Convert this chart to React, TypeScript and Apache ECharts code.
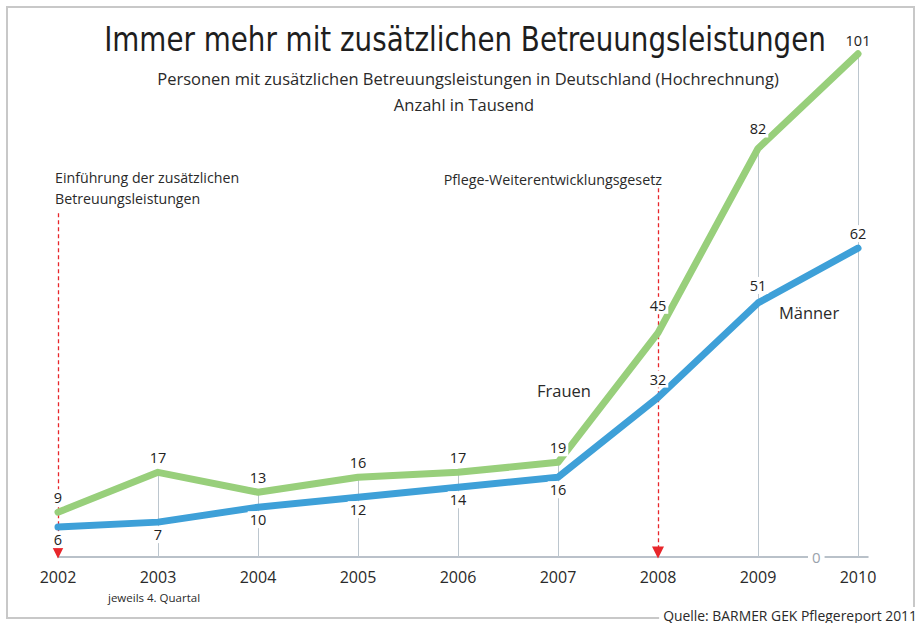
import React, { useEffect, useRef } from 'react';
import * as echarts from 'echarts';

// ---- data ----
const years = [2002, 2003, 2004, 2005, 2006, 2007, 2008, 2009, 2010];
const frauen = [9, 17, 13, 16, 17, 19, 45, 82, 101];
const maenner = [6, 7, 10, 12, 14, 16, 32, 51, 62];
const eventYears = [2002, 2008];
const eventTops = [69, 74];
const eventTexts = ['Einführung der zusätzlichen\nBetreuungsleistungen', 'Pflege-Weiterentwicklungsgesetz'];
const titleText = 'Immer mehr mit zusätzlichen Betreuungsleistungen';
const subtitleText = 'Personen mit zusätzlichen Betreuungsleistungen in Deutschland (Hochrechnung)';
const unitText = 'Anzahl in Tausend';
const noteText = 'jeweils 4. Quartal';
const sourceText = 'Quelle: BARMER GEK Pflegereport 2011';
const seriesNames = ['Frauen', 'Männer'];

// ---- label placement (style) ----
const frauenLabelDist = [5, 5, 5, 5, 5, 5, 18, 10, 4];
const maennerLabelPos = ['bottom', 'bottom', 'bottom', 'bottom', 'bottom', 'bottom', 'top', 'top', 'top'];
const maennerLabelDist = [3, 3, 3, 3, 3, 3, 9, 8, 5];

const GREEN = '#98cf7b';
const BLUE = '#3ea0d8';
const RED = '#e8262b';
const GRID = '#bcc6ce';
const FONT = '"Open Sans", "Noto Sans", sans-serif';
const TITLE_FONT = '"DejaVu Sans Condensed", "Open Sans", sans-serif';

export default function App() {
  const ref = useRef<HTMLDivElement>(null);
  useEffect(() => {
    if (!ref.current) return;
    const chart = echarts.init(ref.current, undefined, { renderer: 'svg' });

    const gridLines = years
      .map((y, i) => ({ y, top: Math.max(frauen[i], maenner[i]) }))
      .filter((d) => !eventYears.includes(d.y))
      .map((d) => [{ coord: [d.y, d.top] }, { coord: [d.y, 0] }]);

    const eventLines = eventYears.map((y, i) => [
      { coord: [y, eventTops[i]], symbol: 'none' },
      { coord: [y, 0.9], symbol: 'triangle', symbolSize: 12 },
    ]);

    const labelBase = {
      show: true,
      color: '#222',
      fontSize: 14.5,
      fontFamily: FONT,
      backgroundColor: '#fff',
      padding: [1, 2],
      formatter: (p: any) => String(p.value[1]),
    };

    const option: any = {
      animation: false,
      backgroundColor: '#fff',
      textStyle: { fontFamily: FONT },
      grid: { left: 58, right: 49, top: 9, bottom: 66 },
      xAxis: {
        type: 'value',
        min: 2002,
        max: 2010.1,
        interval: 1,
        splitLine: { show: false },
        axisTick: { show: false },
        axisLine: { lineStyle: { color: '#a3adb8', width: 1.5 } },
        axisLabel: {
          formatter: (v: number) => (Number.isInteger(v) ? String(v) : ''),
          color: '#2a2a2a',
          fontSize: 16,
          fontFamily: FONT,
          margin: 12,
        },
      },
      yAxis: {
        type: 'value',
        min: 0,
        max: 110,
        interval: 110,
        position: 'right',
        offset: -60,
        splitLine: { show: false },
        axisLine: { show: false },
        axisTick: { show: false },
        axisLabel: {
          formatter: (v: number) => (v === 0 ? '0' : ''),
          color: '#9aa3ac',
          fontSize: 15,
          fontFamily: FONT,
          backgroundColor: '#fff',
          padding: [0, 4],
          margin: 0,
        },
      },
      series: [
        {
          type: 'line',
          name: seriesNames[0],
          z: 3,
          symbol: 'circle',
          symbolSize: 2,
          itemStyle: { color: GREEN },
          lineStyle: { color: GREEN, width: 7, cap: 'round', join: 'round' },
          emphasis: { disabled: true },
          silent: true,
          data: years.map((y, i) => ({
            value: [y, frauen[i]],
            label: { position: 'top', distance: frauenLabelDist[i] },
          })),
          label: { ...labelBase, position: 'top' },
          markLine: {
            z: 1,
            silent: true,
            symbol: 'none',
            label: { show: false },
            lineStyle: { color: GRID, width: 1, type: 'solid' },
            data: gridLines,
          },
        },
        {
          type: 'line',
          name: seriesNames[1],
          z: 3,
          symbol: 'circle',
          symbolSize: 2,
          itemStyle: { color: BLUE },
          lineStyle: { color: BLUE, width: 7, cap: 'round', join: 'round' },
          emphasis: { disabled: true },
          silent: true,
          data: years.map((y, i) => ({
            value: [y, maenner[i]],
            label: { position: maennerLabelPos[i], distance: maennerLabelDist[i] },
          })),
          label: { ...labelBase },
          markLine: {
            z: 1,
            silent: true,
            label: { show: false },
            lineStyle: { color: RED, width: 1.3, type: [4, 3] },
            itemStyle: { color: RED },
            data: eventLines,
          },
        },
      ],
      graphic: [
        {
          type: 'rect',
          z: -1,
          shape: { x: 7, y: 7, width: 907, height: 611 },
          style: { fill: 'none', stroke: '#c8c8c8', lineWidth: 2 },
        },
        {
          type: 'text',
          x: 465,
          y: 40,
          scaleX: 0.935,
          style: {
            text: titleText,
            font: `normal 33px ${TITLE_FONT}`,
            fill: '#1e1e1e',
            align: 'center',
            verticalAlign: 'middle',
          },
        },
        {
          type: 'text',
          x: 468,
          y: 78,
          style: { text: subtitleText, font: `16.5px ${FONT}`, fill: '#2a2a2a', align: 'center', verticalAlign: 'middle' },
        },
        {
          type: 'text',
          x: 464,
          y: 104,
          style: { text: unitText, font: `16.5px ${FONT}`, fill: '#2a2a2a', align: 'center', verticalAlign: 'middle' },
        },
        {
          type: 'text',
          x: 55,
          y: 188,
          style: {
            text: eventTexts[0],
            font: `14.2px ${FONT}`,
            lineHeight: 21,
            fill: '#2a2a2a',
            align: 'left',
            verticalAlign: 'middle',
          },
        },
        {
          type: 'text',
          x: 662,
          y: 179,
          style: { text: eventTexts[1], font: `14.3px ${FONT}`, fill: '#2a2a2a', align: 'right', verticalAlign: 'middle' },
        },
        {
          type: 'text',
          x: 564,
          y: 390,
          style: { text: seriesNames[0], font: `16.5px ${FONT}`, fill: '#2a2a2a', align: 'center', verticalAlign: 'middle' },
        },
        {
          type: 'text',
          x: 809,
          y: 312,
          style: { text: seriesNames[1], font: `16.5px ${FONT}`, fill: '#2a2a2a', align: 'center', verticalAlign: 'middle' },
        },
        {
          type: 'text',
          x: 108,
          y: 597,
          style: { text: noteText, font: `11.5px ${FONT}`, fill: '#2a2a2a', align: 'left', verticalAlign: 'middle' },
        },
        {
          type: 'text',
          x: 917,
          y: 615,
          style: {
            text: sourceText,
            font: `13.9px ${FONT}`,
            fill: '#2a2a2a',
            align: 'right',
            verticalAlign: 'middle',
            backgroundColor: '#fff',
            padding: [1, 0, 1, 4],
          },
        },
      ],
    };
    chart.setOption(option);
    return () => chart.dispose();
  }, []);
  return <div ref={ref} style={{ position: 'absolute', left: 0, top: 0, width: 917, height: 623 }} />;
}
